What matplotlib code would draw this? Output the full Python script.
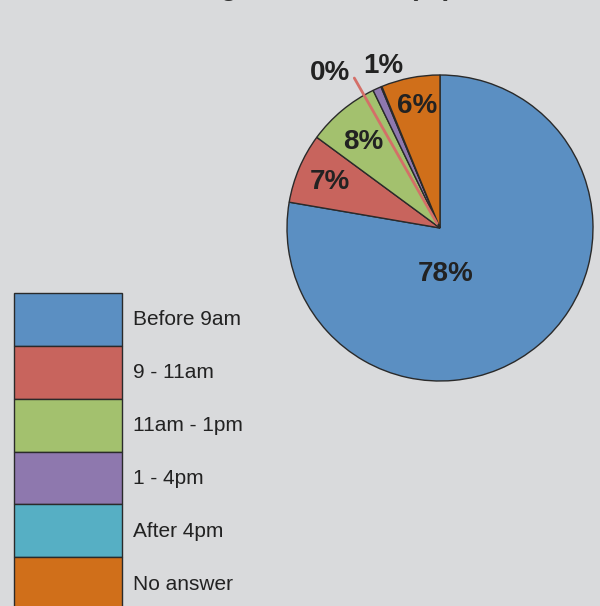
import matplotlib.pyplot as plt

plt.rcParams['font.family'] = ['Liberation Sans', 'DejaVu Sans']

# values (percent)
categories = ["Before 9am", "9 - 11am", "11am - 1pm", "1 - 4pm", "After 4pm", "No answer"]
shares = [77.7, 7.4, 7.7, 0.9, 0.1, 6.2]
pct_labels = ["78%", "7%", "8%", "1%", "0%", "6%"]
colors = ["#5b8fc2", "#c8645d", "#a3c16e", "#8e78ae", "#56afc4", "#d06f1a"]

bg = "#d9dadc"
W, H = 600, 606

fig = plt.figure(figsize=(W / 100, H / 100), dpi=100, facecolor=bg)

# title is mostly cut off at the top of the image
fig.text(452 / W, 1 + 5 / H, "Time of arriving at the office (%)", ha="right",
         va="baseline", fontsize=20, fontweight="bold", color="#333333")

# pie axes: centre (440, 228) px, radius 153 px
cx, cy, r = 440, 228, 153
ax = fig.add_axes([(cx - r) / W, (H - cy - r) / H, 2 * r / W, 2 * r / H])
ax.set_facecolor(bg)
wedges, _ = ax.pie(shares, colors=colors, startangle=90, counterclock=False,
                   radius=1, wedgeprops=dict(edgecolor="#2a2a2a", linewidth=1))
ax.set_xlim(-1, 1)
ax.set_ylim(-1, 1)
ax.axis("off")

label_pos = [(0.04, -0.30), (-0.72, 0.30), (-0.50, 0.56), (-0.37, 1.06),
             (-0.72, 1.01), (-0.15, 0.80)]
for txt, (x, y) in zip(pct_labels, label_pos):
    ax.text(x, y, txt, ha="center", va="center", fontsize=20,
            fontweight="bold", color="#222222", clip_on=False)

# leader line for the 0% slice
ax.annotate("", xy=(-0.02, 0.03), xytext=(-0.56, 0.98),
            arrowprops=dict(arrowstyle="-", color="#d46f68", lw=2,
                            shrinkA=0, shrinkB=0), annotation_clip=False)

fs = 15
fpx = fs * 100 / 72
leg = fig.legend(wedges, categories, loc="upper left",
                 bbox_to_anchor=(14 / W, 1 - 293 / H), borderaxespad=0,
                 frameon=False, fontsize=fs, handlelength=108 / fpx,
                 handleheight=53 / fpx * 53 / 39.5 * 1.033, handletextpad=11 / fpx,
                 labelspacing=0, borderpad=0)
for t in leg.get_texts():
    t.set_color("#222222")

fig.savefig("out.png", dpi=100, facecolor=bg)
